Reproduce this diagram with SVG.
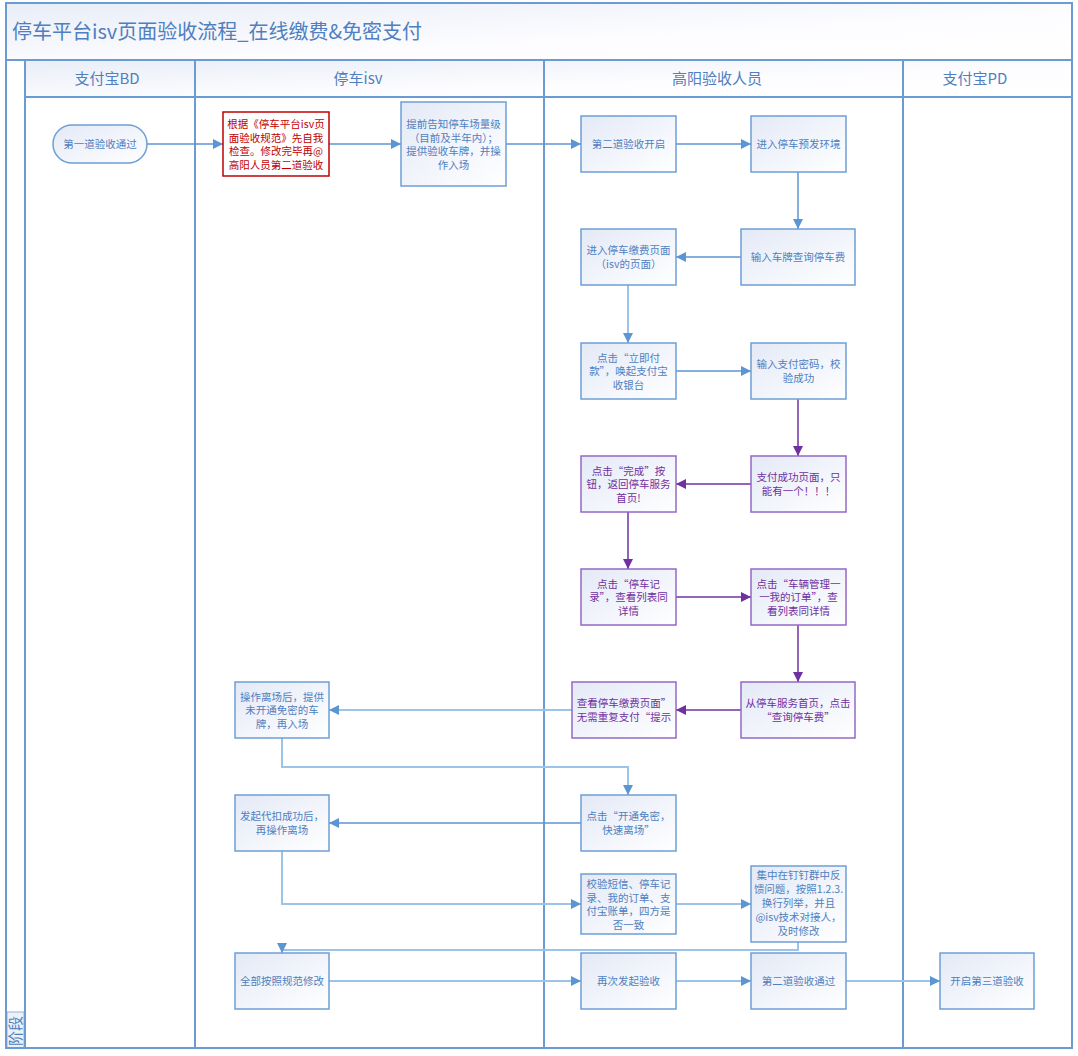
<svg xmlns="http://www.w3.org/2000/svg" width="1078" height="1056" viewBox="0 0 1078 1056">
<defs>
<linearGradient id="g" x1="0" y1="0" x2="1" y2="1"><stop offset="0" stop-color="#e3e9f6"/><stop offset="1" stop-color="#ffffff"/></linearGradient>
<linearGradient id="hg" x1="0" y1="0" x2="1" y2="1"><stop offset="0" stop-color="#e8edf7"/><stop offset="0.6" stop-color="#fdfdff"/><stop offset="1" stop-color="#ffffff"/></linearGradient>
<marker id="ab" viewBox="0 0 10 10" refX="10" refY="5" markerWidth="10" markerHeight="10" markerUnits="userSpaceOnUse" orient="auto"><path d="M0,0 L10,5 L0,10 z" fill="#5b95d3"/></marker>
<marker id="ap" viewBox="0 0 10 10" refX="10" refY="5" markerWidth="10" markerHeight="10" markerUnits="userSpaceOnUse" orient="auto"><path d="M0,0 L10,5 L0,10 z" fill="#7030a0"/></marker>
<style>
.t{font-family:"Noto Sans CJK SC","Noto Sans",sans-serif;font-size:10.5px;fill:#4f7fbf;text-anchor:middle}
.tp{fill:#7030a0}
.tr{fill:#c00000}
.n rect{fill:url(#g);stroke:#6d9fd5;stroke-width:1.5}
.p rect{stroke:#9468c4}
.r rect{fill:#fff;stroke:#c00000}
.lane{stroke:#6b9bd2;stroke-width:2;fill:none}
.h{font-family:"Noto Sans CJK SC","Noto Sans",sans-serif;font-size:15px;fill:#4f7fbf;text-anchor:middle}
.c{fill:none;stroke:#5b95d3;stroke-width:1.5}
.cl{stroke:#9cc3e8;stroke-width:2}
.cp{fill:none;stroke:#7030a0;stroke-width:1.5}
</style>
</defs>
<rect x="0" y="0" width="1078" height="1056" fill="#fff"/>
<g id="frame">
<rect x="6" y="3" width="1066" height="57" fill="url(#hg)"/>
<rect x="25" y="60" width="1047" height="37" fill="url(#hg)"/>
<rect x="7" y="1012" width="17" height="36" fill="#edf1f8" stroke="#8fb3dc" stroke-width="1"/>
<rect x="6" y="3" width="1066" height="1045" class="lane"/>
<line x1="6" y1="60" x2="1072" y2="60" class="lane"/>
<line x1="25" y1="60" x2="25" y2="1048" class="lane"/>
<line x1="25" y1="97" x2="1072" y2="97" class="lane"/>
<line x1="195" y1="60" x2="195" y2="1048" class="lane"/>
<line x1="544" y1="60" x2="544" y2="1048" class="lane"/>
<line x1="903" y1="60" x2="903" y2="1048" class="lane"/>
<text x="12" y="39" class="h" style="font-size:20px;text-anchor:start">停车平台isv页面验收流程_在线缴费&amp;免密支付</text>
<text x="107" y="84" class="h">支付宝BD</text>
<text x="358" y="84" class="h">停车isv</text>
<text x="717" y="84" class="h">高阳验收人员</text>
<text x="975" y="84" class="h">支付宝PD</text>
<text x="21" y="1046" class="h" transform="rotate(-90 21 1046)" style="text-anchor:start">阶段</text>
</g>
<g id="connectors">
<path class="c" d="M147,144 H223" marker-end="url(#ab)"/>
<path class="c" d="M329,144 H401" marker-end="url(#ab)"/>
<path class="c" d="M506,144 H581" marker-end="url(#ab)"/>
<path class="c" d="M676,144 H751" marker-end="url(#ab)"/>
<path class="c" d="M798,172 V229" marker-end="url(#ab)"/>
<path class="c" d="M741,257 H676" marker-end="url(#ab)"/>
<path class="c cl" d="M628,285 V343" marker-end="url(#ab)"/>
<path class="c" d="M676,371 H751" marker-end="url(#ab)"/>
<path class="cp" d="M798,399 V456" marker-end="url(#ap)"/>
<path class="cp" d="M751,484 H676" marker-end="url(#ap)"/>
<path class="cp" d="M628,512 V569" marker-end="url(#ap)"/>
<path class="cp" d="M676,597 H751" marker-end="url(#ap)"/>
<path class="cp" d="M798,625 V682" marker-end="url(#ap)"/>
<path class="cp" d="M741,710 H676" marker-end="url(#ap)"/>
<path class="c cl" d="M572,710 H329" marker-end="url(#ab)"/>
<path class="c cl" d="M282,738 V767 H628 V795" marker-end="url(#ab)"/>
<path class="c" d="M581,823 H329" marker-end="url(#ab)"/>
<path class="c cl" d="M282,851 V904 H581" marker-end="url(#ab)"/>
<path class="c cl" d="M676,904 H751" marker-end="url(#ab)"/>
<path class="c cl" d="M798,942 V950 H282 V953" marker-end="url(#ab)"/>
<path class="c cl" d="M329,981 H581" marker-end="url(#ab)"/>
<path class="c cl" d="M676,981 H751" marker-end="url(#ab)"/>
<path class="c cl" d="M846,981 H940" marker-end="url(#ab)"/>
</g>
<g id="n1" class="n"><rect x="53" y="125" width="94" height="38" rx="19"/><text class="t" x="100" y="148">第一道验收通过</text></g>
<g id="n2" class="n r"><rect x="223" y="112" width="106" height="64"/><text class="t tr" x="276"><tspan x="276" y="128">根据《停车平台isv页</tspan><tspan x="276" y="141.5">面验收规范》先自我</tspan><tspan x="276" y="155">检查。修改完毕再@</tspan><tspan x="276" y="168.5">高阳人员第二道验收</tspan></text></g>
<g id="n3" class="n"><rect x="401" y="102" width="105" height="84"/><text class="t" x="453.5"><tspan x="453.5" y="128">提前告知停车场量级</tspan><tspan x="453.5" y="141.5">（目前及半年内）；</tspan><tspan x="453.5" y="155">提供验收车牌，并操</tspan><tspan x="453.5" y="168.5">作入场</tspan></text></g>
<g id="n4" class="n"><rect x="581" y="116" width="95" height="56"/><text class="t" x="628.5" y="148">第二道验收开启</text></g>
<g id="n5" class="n"><rect x="751" y="116" width="95" height="56"/><text class="t" x="798.5" y="148">进入停车预发环境</text></g>
<g id="n6" class="n"><rect x="741" y="229" width="114" height="56"/><text class="t" x="798" y="261">输入车牌查询停车费</text></g>
<g id="n7" class="n"><rect x="581" y="229" width="95" height="56"/><text class="t"><tspan x="628.5" y="254">进入停车缴费页面</tspan><tspan x="628.5" y="267.5">（isv的页面）</tspan></text></g>
<g id="n8" class="n"><rect x="581" y="343" width="95" height="56"/><text class="t"><tspan x="628.5" y="361.5">点击“立即付</tspan><tspan x="628.5" y="375">款”，唤起支付宝</tspan><tspan x="628.5" y="388.5">收银台</tspan></text></g>
<g id="n9" class="n"><rect x="751" y="343" width="95" height="56"/><text class="t"><tspan x="798.5" y="368">输入支付密码，校</tspan><tspan x="798.5" y="381.5">验成功</tspan></text></g>
<g id="n10" class="n p"><rect x="751" y="456" width="95" height="56"/><text class="t tp"><tspan x="798.5" y="481">支付成功页面，只</tspan><tspan x="798.5" y="494.5">能有一个！！！</tspan></text></g>
<g id="n11" class="n p"><rect x="581" y="456" width="95" height="56"/><text class="t tp"><tspan x="628.5" y="474.5">点击“完成”按</tspan><tspan x="628.5" y="488">钮，返回停车服务</tspan><tspan x="628.5" y="501.5">首页!</tspan></text></g>
<g id="n12" class="n p"><rect x="581" y="569" width="95" height="56"/><text class="t tp"><tspan x="628.5" y="587.5">点击“停车记</tspan><tspan x="628.5" y="601">录”，查看列表同</tspan><tspan x="628.5" y="614.5">详情</tspan></text></g>
<g id="n13" class="n p"><rect x="751" y="569" width="95" height="56"/><text class="t tp"><tspan x="798.5" y="587.5">点击“车辆管理一</tspan><tspan x="798.5" y="601">一我的订单”，查</tspan><tspan x="798.5" y="614.5">看列表同详情</tspan></text></g>
<g id="n14" class="n p"><rect x="741" y="682" width="114" height="56"/><text class="t tp"><tspan x="798" y="707">从停车服务首页，点击</tspan><tspan x="798" y="720.5">“查询停车费”</tspan></text></g>
<g id="n15" class="n p"><rect x="572" y="682" width="104" height="56"/><text class="t tp"><tspan x="624" y="707">查看停车缴费页面”</tspan><tspan x="624" y="720.5">无需重复支付“提示</tspan></text></g>
<g id="n16" class="n"><rect x="235" y="682" width="94" height="56"/><text class="t"><tspan x="282" y="700.5">操作离场后，提供</tspan><tspan x="282" y="714">未开通免密的车</tspan><tspan x="282" y="727.5">牌，再入场</tspan></text></g>
<g id="n17" class="n"><rect x="581" y="795" width="95" height="56"/><text class="t"><tspan x="628.5" y="820">点击“开通免密，</tspan><tspan x="628.5" y="833.5">快速离场”</tspan></text></g>
<g id="n18" class="n"><rect x="235" y="795" width="94" height="56"/><text class="t"><tspan x="282" y="820">发起代扣成功后，</tspan><tspan x="282" y="833.5">再操作离场</tspan></text></g>
<g id="n19" class="n"><rect x="581" y="874" width="95" height="60"/><text class="t"><tspan x="628.5" y="888">校验短信、停车记</tspan><tspan x="628.5" y="901.5">录、我的订单、支</tspan><tspan x="628.5" y="915">付宝账单，四方是</tspan><tspan x="628.5" y="928.5">否一致</tspan></text></g>
<g id="n20" class="n"><rect x="751" y="866" width="95" height="76"/><text class="t"><tspan x="798.5" y="879">集中在钉钉群中反</tspan><tspan x="798.5" y="893">馈问题，按照1.2.3.</tspan><tspan x="798.5" y="907">换行列举，并且</tspan><tspan x="798.5" y="921">@isv技术对接人，</tspan><tspan x="798.5" y="935">及时修改</tspan></text></g>
<g id="n21" class="n"><rect x="235" y="953" width="94" height="56"/><text class="t" x="282" y="985">全部按照规范修改</text></g>
<g id="n22" class="n"><rect x="581" y="953" width="95" height="56"/><text class="t" x="628.5" y="985">再次发起验收</text></g>
<g id="n23" class="n"><rect x="751" y="953" width="95" height="56"/><text class="t" x="798.5" y="985">第二道验收通过</text></g>
<g id="n24" class="n"><rect x="940" y="953" width="94" height="56"/><text class="t" x="987" y="985">开启第三道验收</text></g>
</svg>
